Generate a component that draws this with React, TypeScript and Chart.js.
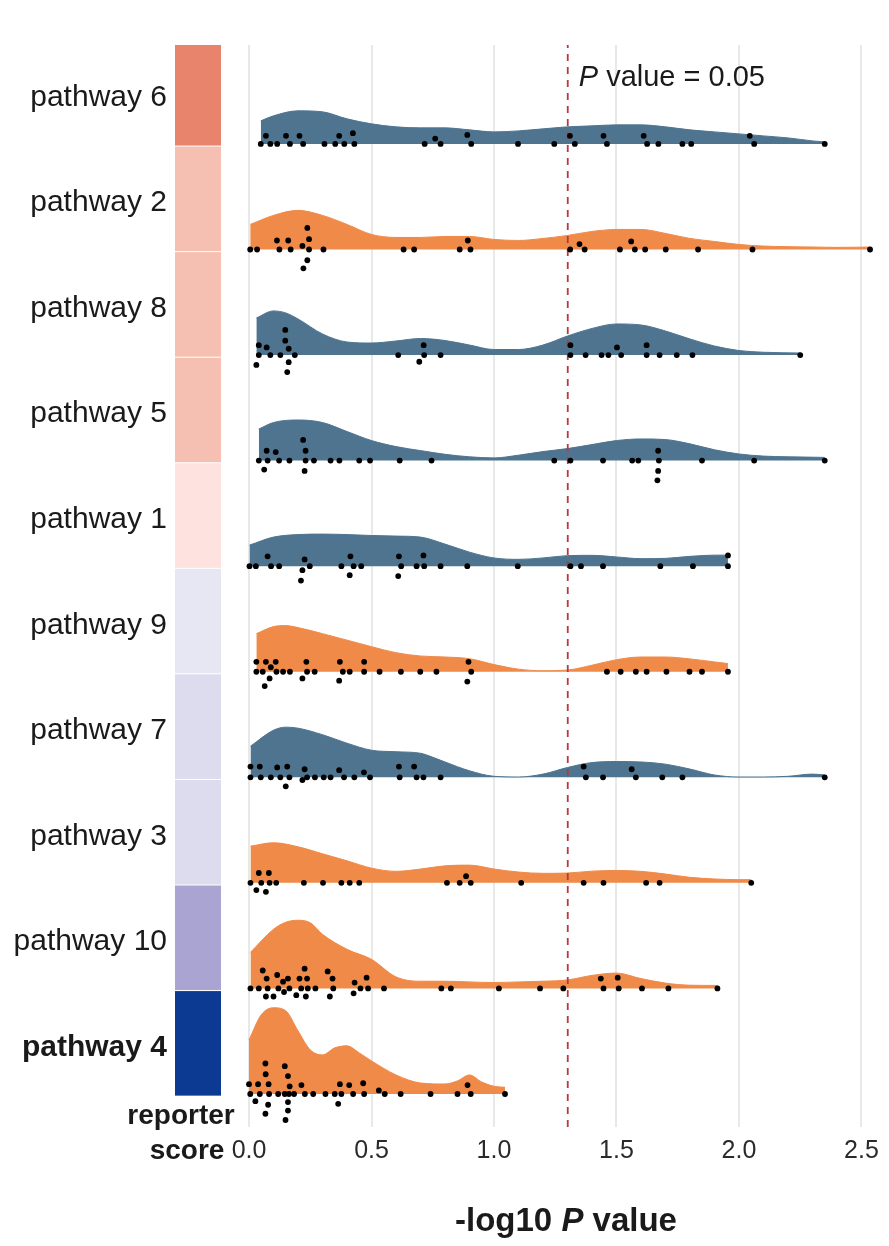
import React, { useEffect, useRef } from 'react';
import { Chart, registerables } from 'chart.js';

Chart.register(...registerables);

// ---------------- data ----------------
const pathways = ['pathway 6', 'pathway 2', 'pathway 8', 'pathway 5', 'pathway 1', 'pathway 9', 'pathway 7', 'pathway 3', 'pathway 10', 'pathway 4'];
const highlighted = 'pathway 4';
const groups = ['blue', 'orange', 'blue', 'blue', 'blue', 'orange', 'blue', 'orange', 'orange', 'orange'];
const reporterColors = ['#e8846c', '#f5c0b1', '#f5c0b1', '#f5c0b1', '#fde2df', '#e7e7f4', '#dcdcee', '#dcdcee', '#a9a4d2', '#0c3a92'];
const xTickValues = [0, 0.5, 1, 1.5, 2, 2.5];
const pCutoff = 0.05;

// dots: [-log10 P, stack level]
const p6Dots = [[0.048,0],[0.069,0.9],[0.087,0],[0.115,0],[0.151,0.9],[0.167,0],[0.206,0.9],[0.221,0],[0.308,0],[0.352,0],[0.368,0.9],[0.389,0],[0.424,1.2],[0.430,0],[0.717,0],[0.760,0.6],[0.782,0],[0.891,1.0],[0.907,0],[1.098,0],[1.246,0],[1.310,0.9],[1.330,0],[1.447,0.9],[1.461,0],[1.611,0.9],[1.625,0],[1.671,0],[1.769,0],[1.805,0],[2.044,0.9],[2.062,0],[2.350,0]];
const p2Dots = [[0.005,0],[0.033,0],[0.114,1.0],[0.124,0],[0.160,1.0],[0.170,0],[0.218,0.4],[0.238,2.4],[0.245,1.15],[0.245,0],[0.238,-1.2],[0.222,-2.1],[0.304,0],[0.631,0],[0.674,0],[0.860,0],[0.893,1.0],[0.904,0],[1.311,0],[1.349,0.6],[1.370,0],[1.514,0],[1.560,0.9],[1.575,0],[1.617,0],[1.701,0],[1.833,0],[2.055,0],[2.535,0]];
const p8Dots = [[0.030,-1.1],[0.040,0],[0.040,1.1],[0.072,0.85],[0.087,0],[0.128,0],[0.148,1.6],[0.148,2.8],[0.162,0.7],[0.162,-0.8],[0.156,-1.9],[0.187,0],[0.609,0],[0.695,-0.75],[0.713,1.1],[0.715,0],[0.782,0],[1.312,1.1],[1.312,0],[1.374,0],[1.439,0],[1.467,0],[1.502,0.85],[1.519,0],[1.623,1.1],[1.623,0],[1.676,0],[1.746,0],[1.810,0],[2.250,0]];
const p5Dots = [[0.040,0],[0.062,-1.0],[0.072,1.1],[0.076,0],[0.109,0.95],[0.123,0],[0.165,0],[0.221,2.3],[0.231,1.1],[0.231,0],[0.227,-1.15],[0.265,0],[0.333,0],[0.369,0],[0.450,0],[0.494,0],[0.615,0],[0.745,0],[1.246,0],[1.312,0],[1.445,0],[1.564,0],[1.589,0],[1.670,1.1],[1.673,0],[1.670,-1.15],[1.667,-2.2],[1.849,0],[2.062,0],[2.350,0]];
const p1Dots = [[0.002,0],[0.028,0],[0.076,1.1],[0.090,0],[0.123,0],[0.212,-1.6],[0.218,-0.45],[0.227,0.75],[0.248,0],[0.377,0],[0.411,-1.0],[0.414,1.1],[0.427,0],[0.458,0],[0.609,-1.1],[0.612,1.1],[0.621,0],[0.684,0],[0.712,1.2],[0.715,0],[0.782,0],[0.891,0],[1.097,0],[1.312,0],[1.355,0],[1.445,0],[1.679,0],[1.812,0],[1.955,1.2],[1.955,0]];
const p9Dots = [[0.030,1.1],[0.030,0],[0.056,0],[0.064,-1.6],[0.069,1.1],[0.084,-0.75],[0.089,0.5],[0.109,1.1],[0.112,0],[0.139,0],[0.167,0],[0.218,-0.75],[0.234,1.1],[0.237,0],[0.268,0],[0.368,-1.0],[0.371,1.1],[0.383,0],[0.411,0],[0.470,1.1],[0.470,0],[0.533,0],[0.620,0],[0.699,0],[0.765,0],[0.891,-1.1],[0.896,1.1],[0.907,0],[1.461,0],[1.517,0],[1.579,0],[1.623,0],[1.704,0],[1.798,0],[1.849,0],[1.955,0]];
const p7Dots = [[0.006,1.2],[0.006,0],[0.044,1.2],[0.048,0],[0.089,0],[0.115,1.1],[0.128,0],[0.150,-1.0],[0.156,1.2],[0.165,0],[0.218,-0.3],[0.227,0.9],[0.237,0],[0.269,0],[0.305,0],[0.333,0],[0.368,0.8],[0.388,0],[0.430,0],[0.469,0.55],[0.494,0],[0.612,1.2],[0.615,0],[0.674,1.2],[0.684,0],[0.712,0],[0.782,0],[1.366,1.2],[1.375,0],[1.445,0],[1.562,0.9],[1.579,0],[1.687,0],[1.769,0],[2.350,0]];
const p3Dots = [[0.006,0],[0.030,-0.8],[0.040,1.1],[0.050,0],[0.069,-1.0],[0.081,1.1],[0.084,0],[0.111,0],[0.224,0],[0.302,0],[0.377,0],[0.411,0],[0.450,0],[0.808,0],[0.860,0],[0.886,0.75],[0.905,0],[1.111,0],[1.366,0],[1.447,0],[1.621,0],[1.676,0],[2.050,0]];
const p10Dots = [[0.006,0],[0.040,0],[0.056,2.0],[0.069,-0.9],[0.072,1.1],[0.076,0],[0.100,-0.9],[0.115,1.5],[0.120,0],[0.139,0.75],[0.143,-0.4],[0.159,1.1],[0.165,0],[0.193,-0.75],[0.206,1.1],[0.213,0],[0.227,2.2],[0.232,-0.9],[0.237,1.1],[0.240,0],[0.271,0],[0.321,1.9],[0.330,-0.9],[0.341,1.1],[0.344,0],[0.427,-0.55],[0.431,0.65],[0.455,0],[0.480,1.2],[0.486,0],[0.551,0],[0.785,0],[0.824,0],[1.020,0],[1.188,0],[1.283,0],[1.436,1.1],[1.447,0],[1.505,1.2],[1.509,0],[1.604,0],[1.712,0],[1.912,0]];
const p4Dots = [[0,1.1],[0.005,0],[0.026,-0.8],[0.037,1.1],[0.044,0],[0.067,3.4],[0.068,2.2],[0.067,-2.2],[0.078,-1.2],[0.080,1.1],[0.082,0],[0.119,0],[0.146,3.1],[0.146,0],[0.149,-2.9],[0.159,2.0],[0.159,-0.9],[0.159,-1.85],[0.163,0],[0.166,0.85],[0.184,0],[0.214,1.0],[0.228,0],[0.262,0],[0.312,0],[0.350,0],[0.364,-1.1],[0.371,1.1],[0.377,0],[0.409,1.0],[0.425,0],[0.466,1.2],[0.470,0],[0.530,0.4],[0.554,0],[0.619,0],[0.741,0],[0.851,0],[0.892,1.0],[0.905,0],[1.045,0]];

// densities: [-log10 P, density]
const p6Dens = [[0.048,0.23],[0.1,0.28],[0.2,0.33],[0.3,0.32],[0.4,0.25],[0.5,0.20],[0.6,0.17],[0.7,0.16],[0.8,0.16],[0.9,0.14],[1.0,0.12],[1.1,0.13],[1.2,0.15],[1.3,0.17],[1.4,0.18],[1.5,0.19],[1.6,0.19],[1.7,0.17],[1.8,0.14],[1.9,0.12],[2.0,0.10],[2.1,0.08],[2.2,0.06],[2.3,0.03],[2.350,0.02]];
const p2Dens = [[0.005,0.25],[0.1,0.34],[0.2,0.39],[0.3,0.34],[0.4,0.25],[0.5,0.15],[0.6,0.12],[0.7,0.12],[0.8,0.13],[0.9,0.13],[1.0,0.10],[1.1,0.09],[1.2,0.11],[1.3,0.14],[1.4,0.18],[1.5,0.20],[1.6,0.20],[1.7,0.16],[1.8,0.11],[1.9,0.08],[2.0,0.05],[2.1,0.034],[2.2,0.028],[2.3,0.025],[2.4,0.021],[2.535,0.024]];
const p8Dens = [[0.030,0.37],[0.1,0.44],[0.15,0.42],[0.2,0.36],[0.3,0.21],[0.4,0.13],[0.5,0.12],[0.6,0.14],[0.7,0.165],[0.8,0.145],[0.9,0.10],[1.0,0.055],[1.1,0.055],[1.2,0.10],[1.3,0.19],[1.4,0.265],[1.5,0.31],[1.6,0.30],[1.7,0.24],[1.8,0.16],[1.9,0.09],[2.0,0.045],[2.1,0.028],[2.250,0.02]];
const p5Dens = [[0.040,0.315],[0.1,0.38],[0.2,0.405],[0.3,0.38],[0.4,0.29],[0.5,0.20],[0.6,0.14],[0.7,0.10],[0.8,0.063],[0.9,0.038],[1.0,0.027],[1.1,0.054],[1.2,0.09],[1.3,0.12],[1.4,0.16],[1.5,0.20],[1.6,0.216],[1.7,0.21],[1.8,0.167],[1.9,0.108],[2.0,0.066],[2.1,0.045],[2.2,0.038],[2.350,0.032]];
const p1Dens = [[0.002,0.21],[0.1,0.29],[0.2,0.315],[0.3,0.32],[0.4,0.315],[0.5,0.306],[0.6,0.30],[0.7,0.29],[0.8,0.22],[0.9,0.14],[1.0,0.082],[1.1,0.068],[1.2,0.082],[1.3,0.105],[1.4,0.108],[1.5,0.092],[1.6,0.075],[1.7,0.078],[1.8,0.098],[1.9,0.11],[1.955,0.11]];
const p9Dens = [[0.030,0.38],[0.1,0.45],[0.15,0.46],[0.2,0.44],[0.3,0.38],[0.4,0.315],[0.5,0.25],[0.6,0.19],[0.7,0.157],[0.8,0.147],[0.9,0.13],[1.0,0.072],[1.1,0.026],[1.2,0.01],[1.3,0.017],[1.4,0.065],[1.5,0.12],[1.6,0.147],[1.7,0.147],[1.8,0.128],[1.9,0.098],[1.955,0.082]];
const p7Dens = [[0.006,0.31],[0.1,0.47],[0.15,0.50],[0.2,0.49],[0.3,0.425],[0.4,0.34],[0.5,0.27],[0.6,0.255],[0.7,0.24],[0.75,0.20],[0.8,0.153],[0.9,0.065],[1.0,0.01],[1.1,0.003],[1.2,0.032],[1.3,0.098],[1.4,0.147],[1.5,0.157],[1.6,0.153],[1.7,0.131],[1.8,0.082],[1.9,0.023],[2.0,0.003],[2.1,0.003],[2.2,0.01],[2.3,0.032],[2.350,0.023]];
const p3Dens = [[0.006,0.366],[0.1,0.40],[0.2,0.36],[0.3,0.29],[0.4,0.22],[0.5,0.147],[0.6,0.115],[0.7,0.138],[0.8,0.17],[0.9,0.177],[1.0,0.138],[1.1,0.108],[1.2,0.095],[1.3,0.098],[1.4,0.117],[1.5,0.124],[1.6,0.115],[1.7,0.088],[1.8,0.055],[1.9,0.039],[2.0,0.032],[2.050,0.032]];
const p10Dens = [[0.006,0.36],[0.1,0.59],[0.15,0.66],[0.2,0.68],[0.25,0.655],[0.3,0.54],[0.4,0.39],[0.5,0.29],[0.6,0.115],[0.7,0.072],[0.8,0.072],[0.9,0.065],[1.0,0.059],[1.1,0.065],[1.2,0.072],[1.3,0.085],[1.4,0.13],[1.5,0.153],[1.6,0.098],[1.7,0.053],[1.8,0.032],[1.912,0.03]];
const p4Dens = [[0,0.54],[0.05,0.79],[0.1,0.86],[0.15,0.83],[0.2,0.63],[0.25,0.44],[0.3,0.39],[0.35,0.46],[0.4,0.48],[0.45,0.41],[0.5,0.33],[0.6,0.19],[0.7,0.11],[0.8,0.10],[0.85,0.13],[0.9,0.19],[0.95,0.12],[1.0,0.077],[1.045,0.067]];

const dotsByRow = [p6Dots, p2Dots, p8Dots, p5Dots, p1Dots, p9Dots, p7Dots, p3Dots, p10Dots, p4Dots];
const densByRow = [p6Dens, p2Dens, p8Dens, p5Dens, p1Dens, p9Dens, p7Dens, p3Dens, p10Dens, p4Dens];

// ---------------- styling ----------------
const FONT = "'Liberation Sans', Arial, Helvetica, sans-serif";
const BLUE = '#4e7490';
const ORANGE = '#f08a48';
const DENS_SCALE = 0.95;
const DOT_STEP = 0.085;
const LABEL_OFFSET = 0.44;
const Y_MIN = -0.3126;
const Y_MAX = 9.937;

type Part = { text: string; font: string };

function drawRich(ctx: CanvasRenderingContext2D, parts: Part[], x: number, y: number, align: 'left' | 'center') {
  let total = 0;
  const widths = parts.map((p) => {
    ctx.font = p.font;
    const w = ctx.measureText(p.text).width;
    total += w;
    return w;
  });
  let cx = align === 'center' ? x - total / 2 : x;
  ctx.textAlign = 'left';
  ctx.textBaseline = 'middle';
  parts.forEach((p, i) => {
    ctx.font = p.font;
    ctx.fillText(p.text, cx, y);
    cx += widths[i];
  });
}

const decor = {
  id: 'decor',
  beforeDraw(chart: any) {
    const { ctx, chartArea } = chart;
    const ys = chart.scales.y;
    const n = pathways.length;
    ctx.save();
    reporterColors.forEach((c, k) => {
      const base = n - 1 - k;
      let top = ys.getPixelForValue(base + 0.975);
      const bottom = ys.getPixelForValue(base - 0.025);
      if (top < chartArea.top) top = chartArea.top;
      ctx.fillStyle = c;
      ctx.fillRect(175, top, 46, bottom - top - 1);
    });
    ctx.restore();
  },
  afterDraw(chart: any) {
    const { ctx } = chart;
    const xs = chart.scales.x;
    const cut = -Math.log10(pCutoff);
    ctx.save();
    ctx.fillStyle = '#1a1a1a';
    drawRich(ctx, [
      { text: 'P', font: `italic 29px ${FONT}` },
      { text: ' value = 0.05', font: `29px ${FONT}` },
    ], xs.getPixelForValue(cut) + 11, 78, 'left');

    drawRich(ctx, [
      { text: '-log10 ', font: `bold 33px ${FONT}` },
      { text: 'P', font: `italic bold 33px ${FONT}` },
      { text: ' value', font: `bold 33px ${FONT}` },
    ], 566, 1222, 'center');

    drawRich(ctx, [{ text: 'reporter', font: `bold 28px ${FONT}` }], 181, 1116, 'center');
    drawRich(ctx, [{ text: 'score', font: `bold 28px ${FONT}` }], 187, 1151, 'center');
    ctx.restore();
  },
};

export default function App() {
  const ref = useRef<HTMLCanvasElement>(null);

  useEffect(() => {
    const canvas = ref.current;
    if (!canvas) return;
    const n = pathways.length;
    const cut = -Math.log10(pCutoff);
    const datasets: any[] = [];

    pathways.forEach((name, k) => {
      const base = n - 1 - k;
      const color = groups[k] === 'blue' ? BLUE : ORANGE;
      datasets.push({
        label: name + ' density',
        showLine: true,
        data: densByRow[k].map(([x, d]) => ({ x, y: base + d * DENS_SCALE })),
        fill: { value: base },
        backgroundColor: color,
        borderColor: color,
        borderWidth: 1,
        pointRadius: 0,
        cubicInterpolationMode: 'monotone',
        order: 3,
      });
      datasets.push({
        label: name + ' points',
        showLine: false,
        data: dotsByRow[k].map(([x, l]) => ({ x, y: base + l * DOT_STEP })),
        pointRadius: 2.9,
        pointBackgroundColor: '#000',
        pointBorderWidth: 0,
        backgroundColor: '#000',
        borderColor: '#000',
        order: 1,
      });
    });

    datasets.push({
      label: 'P = 0.05',
      showLine: true,
      data: [{ x: cut, y: Y_MIN }, { x: cut, y: Y_MAX }],
      borderColor: '#b8383c',
      borderWidth: 1.8,
      borderDash: [7, 6],
      pointRadius: 0,
      fill: false,
      order: 2,
    });

    const chart = new Chart(canvas, {
      type: 'scatter',
      data: { datasets },
      options: {
        animation: false,
        responsive: false,
        maintainAspectRatio: false,
        layout: { padding: { top: 45, right: 4, left: 0, bottom: 0 } },
        plugins: { legend: { display: false }, tooltip: { enabled: false } },
        scales: {
          x: {
            type: 'linear',
            min: -0.0776,
            max: 2.596,
            afterBuildTicks: (s: any) => {
              s.ticks = xTickValues.map((v) => ({ value: v }));
            },
            afterFit: (s: any) => {
              s.height = 119;
              s.paddingLeft = 0;
              s.paddingRight = 0;
            },
            grid: { color: '#e8e8e8', lineWidth: 2, drawTicks: false },
            border: { display: false },
            ticks: {
              padding: 9,
              color: '#2a2a2a',
              autoSkip: false,
              maxRotation: 0,
              font: { family: FONT, size: 25 },
              callback: (v: any) => Number(v).toFixed(1),
            },
          },
          y: {
            type: 'linear',
            min: Y_MIN,
            max: Y_MAX,
            afterBuildTicks: (s: any) => {
              s.ticks = pathways.map((_, k) => ({ value: n - 1 - k + LABEL_OFFSET }));
            },
            afterFit: (s: any) => {
              s.width = 230;
              s.paddingTop = 0;
              s.paddingBottom = 0;
            },
            grid: { display: false, drawTicks: false },
            border: { display: false },
            ticks: {
              padding: 63,
              color: '#1a1a1a',
              autoSkip: false,
              font: (c: any) => {
                const v = c.tick ? c.tick.value : 0;
                const lbl = pathways[n - 1 - Math.round(v - LABEL_OFFSET)];
                return { family: FONT, size: 30, weight: lbl === highlighted ? 'bold' : 'normal' };
              },
              callback: (v: any) => pathways[n - 1 - Math.round(Number(v) - LABEL_OFFSET)],
            },
          },
        },
      } as any,
      plugins: [decor],
    });

    return () => chart.destroy();
  }, []);

  return (
    <div style={{ position: 'absolute', left: 0, top: 0, width: 889, height: 1246 }}>
      <canvas ref={ref} width={889} height={1246} style={{ display: 'block' }} />
    </div>
  );
}
